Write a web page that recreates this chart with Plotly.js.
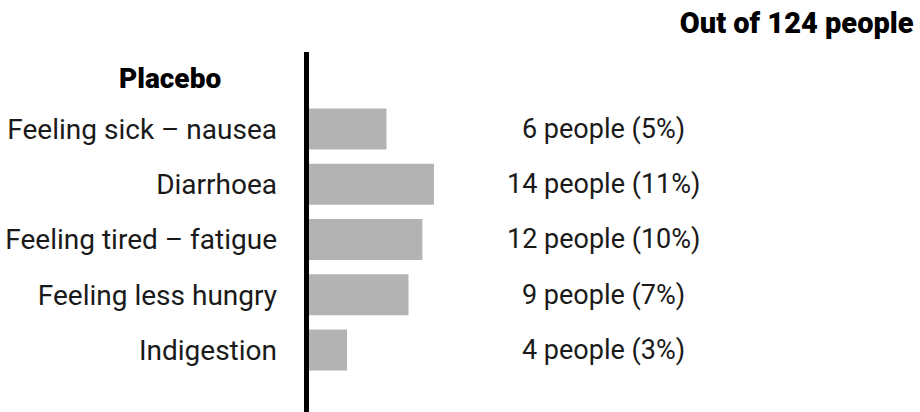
<!DOCTYPE html>
<html>
<head>
<meta charset="utf-8">
<script src="https://cdn.plot.ly/plotly-3.0.1.min.js"></script>
<style>html,body{margin:0;padding:0;background:#fff;}#chart{width:920px;height:412px;}</style>
</head>
<body>
<div id="chart"></div>
<script>
// Data
const categories = ["Feeling sick – nausea", "Diarrhoea", "Feeling tired – fatigue", "Feeling less hungry", "Indigestion"];
const peopleCounts = [6, 14, 12, 9, 4];
const percents = [5, 11, 10, 7, 3];
// bar lengths as drawn (arbitrary percent-like units)
const barLength = [6.9, 11, 10, 8.8, 3.5];
const groupLabel = "Placebo";
const totalLabel = "Out of 124 people";

const valueLabels = peopleCounts.map((n, i) => n + " people (" + percents[i] + "%)");

const FONT = "Roboto, 'Liberation Sans', Arial, sans-serif";

const trace = {
  type: "bar",
  orientation: "h",
  y: categories,
  x: barLength,
  marker: {color: "#b3b3b3", line: {width: 0}},
  hoverinfo: "skip"
};

const annotations = valueLabels.map((t, i) => ({
  text: t,
  xref: "paper", x: 0.4895,
  yref: "y", y: categories[i],
  xanchor: "center", yanchor: "middle",
  showarrow: false,
  font: {family: FONT, size: 27, color: "#1a1a1a"}
}));
annotations.push({
  text: groupLabel,
  xref: "paper", x: -0.210,
  yref: "paper", y: 0.925,
  xanchor: "center", yanchor: "middle",
  showarrow: false,
  font: {family: FONT, size: 28, color: "#000", weight: 900}
});

const layout = {
  width: 920, height: 412,
  margin: {l: 300, r: 0, t: 52, b: 0, pad: 0},
  paper_bgcolor: "#fff", plot_bgcolor: "#fff",
  showlegend: false,
  bargap: 0.258,
  title: {
    text: totalLabel,
    xref: "container", x: 0.993, xanchor: "right",
    yref: "container", y: 0.944, yanchor: "middle",
    font: {family: FONT, size: 29, color: "#000", weight: 900}
  },
  xaxis: {
    range: [-0.56, 52.94],
    visible: false,
    showgrid: false, zeroline: false, fixedrange: true
  },
  yaxis: {
    type: "category",
    categoryorder: "array", categoryarray: categories,
    range: [5.123, -1.393],
    showgrid: false, zeroline: false, showline: false,
    ticks: "", ticklen: 0,
    ticklabelstandoff: 22,
    tickfont: {family: FONT, size: 28, color: "#1a1a1a"},
    fixedrange: true
  },
  shapes: [{
    type: "line", layer: "above",
    xref: "x", x0: 0, x1: 0,
    yref: "paper", y0: 0, y1: 1,
    line: {color: "#000", width: 5}
  }],
  annotations: annotations
};

Plotly.newPlot("chart", [trace], layout, {displayModeBar: false, staticPlot: true});
</script>
</body>
</html>
